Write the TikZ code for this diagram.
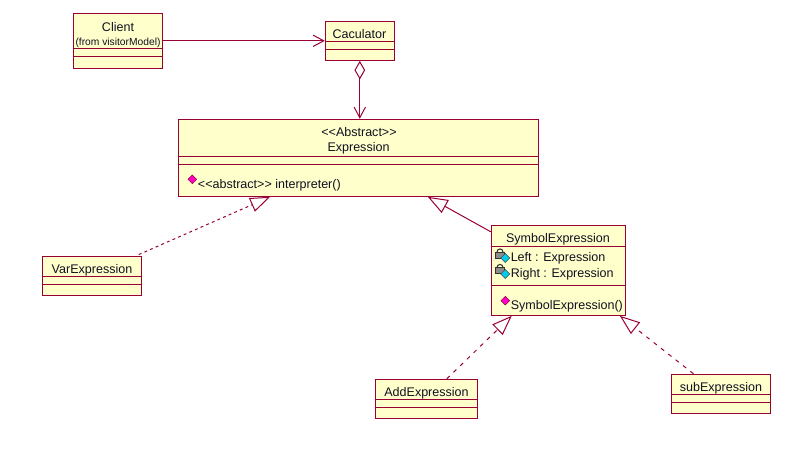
\documentclass[tikz,border=0pt]{standalone}
\usepackage{fontspec}
\setmainfont{Liberation Sans}
\usetikzlibrary{arrows.meta,calc,shapes.geometric}
\definecolor{umlline}{HTML}{990033}
\definecolor{umlfill}{HTML}{FFFFCC}
\definecolor{umltext}{HTML}{101020}
\definecolor{opcolor}{HTML}{FF00CC}
\definecolor{attrcolor}{HTML}{00CCEE}

\begin{document}
\begin{tikzpicture}[
		x=0.75pt, y=-0.75pt,
		every node/.style={font=\fontsize{9.4}{11}\selectfont, text=umltext},
		classbox/.style 2 args={
				draw=umlline,
				fill=umlfill,
				line width=0.75pt,
				inner sep=0pt,
				minimum width=#1*0.75pt,
				minimum height=#2*0.75pt
		},
		part/.style={draw=umlline, line width=0.75pt},
		label/.style={inner sep=0pt},
		member/.style={inner sep=0pt, anchor=west},
		small/.style={inner sep=0pt, font=\fontsize{7.7}{9}\selectfont},
		opicon/.style={diamond, draw=umlline, fill=opcolor, line width=0.4pt, inner sep=0pt, minimum size=6.6pt},
		attricon/.style={diamond, draw=black!70, fill=attrcolor, line width=0.4pt, inner sep=0pt, minimum size=7pt},
		lockbody/.style={draw=black!80, fill=black!45, line width=0.4pt, inner sep=0pt, minimum width=6.8pt, minimum height=4.2pt},
		lockring/.style={draw=black!80, line width=0.8pt},
		arrow/.style={part, -{Straight Barb[length=8pt, width=8.5pt, line width=0.75pt]}},
		aggregate/.style={part, {Diamond[open, length=14pt, width=8pt, line width=0.75pt]}-{Straight Barb[length=8pt, width=8.5pt, line width=0.75pt]}},
		inherit/.style={part, -{Triangle[open, length=15pt, width=11pt, line width=0.75pt]}},
		realize/.style={inherit, dash pattern=on 3pt off 4pt},
		realizefine/.style={inherit, dash pattern=on 2.2pt off 2.4pt}
	]
	\useasboundingbox (0,0) rectangle (810,464);

	% Classes
	\node[classbox={89}{55}] (client) at (117.8,40.8) {};
	\node[classbox={69}{39}] (caculator) at (359.8,40.8) {};
	\node[classbox={360}{77}] (expression) at (358.3,157.8) {};
	\node[classbox={134.4}{90}] (symbol) at (558.5,270.3) {};
	\node[classbox={99}{39.3}] (var) at (91.8,275.7) {};
	\node[classbox={102.4}{39}] (add) at (426.5,398.8) {};
	\node[classbox={99.4}{39}] (sub) at (721,393.8) {};

	% Compartment lines
	\draw[part] ($(client.north west)+(0,36)$) -- ($(client.north east)+(0,36)$);
	\draw[part] ($(client.north west)+(0,44)$) -- ($(client.north east)+(0,44)$);
	\draw[part] ($(caculator.north west)+(0,21)$) -- ($(caculator.north east)+(0,21)$);
	\draw[part] ($(caculator.north west)+(0,29)$) -- ($(caculator.north east)+(0,29)$);
	\draw[part] ($(expression.north west)+(0,38)$) -- ($(expression.north east)+(0,38)$);
	\draw[part] ($(expression.north west)+(0,46)$) -- ($(expression.north east)+(0,46)$);
	\draw[part] ($(symbol.north west)+(0,21.3)$) -- ($(symbol.north east)+(0,21.3)$);
	\draw[part] ($(symbol.north west)+(0,61)$) -- ($(symbol.north east)+(0,61)$);
	\draw[part] ($(var.north west)+(0,21.3)$) -- ($(var.north east)+(0,21.3)$);
	\draw[part] ($(var.north west)+(0,29.3)$) -- ($(var.north east)+(0,29.3)$);
	\draw[part] ($(add.north west)+(0,21)$) -- ($(add.north east)+(0,21)$);
	\draw[part] ($(add.north west)+(0,29)$) -- ($(add.north east)+(0,29)$);
	\draw[part] ($(sub.north west)+(0,21)$) -- ($(sub.north east)+(0,21)$);
	\draw[part] ($(sub.north west)+(0,29)$) -- ($(sub.north east)+(0,29)$);

	% Texts
	\node[label] (clientname) at (118,26.7) {Client};
	\node[small] (clientfrom) at (118,43.3) {(from visitorModel)};
	\node[label] (caculatorname) at (359.5,34.5) {Caculator};
	\node[label] (stereotype) at (359,132.5) {<{}<Abstract>{}>};
	\node[label] (expressionname) at (358.5,148.5) {Expression};
	\node[member] (interpreter) at (197.7,185) {<{}<abstract>{}> interpreter()};
	\node[label] (symbolname) at (558,239) {SymbolExpression};
	\node[member] (left) at (510.5,258.2) {Left : Expression};
	\node[member] (right) at (510.5,274) {Right : Expression};
	\node[member] (symbolop) at (510.5,305.8) {SymbolExpression()};
	\node[label] (varname) at (92,269.8) {VarExpression};
	\node[label] (addname) at (426.5,393.2) {AddExpression};
	\node[label] (subname) at (721,388.2) {subExpression};

	% Member icons
	\node[opicon] (interpretericon) at (192.3,179.3) {};
	\node[opicon] (symbolopicon) at (505.3,300.7) {};
	\node[lockbody] (leftlock) at (500,255) {};
	\draw[lockring] ($(leftlock.north)+(-3,0)$) arc[start angle=180, end angle=360, radius=3];
	\node[attricon] (lefticon) at (505.3,258) {};
	\node[lockbody] (rightlock) at (500,270.5) {};
	\draw[lockring] ($(rightlock.north)+(-3,0)$) arc[start angle=180, end angle=360, radius=3];
	\node[attricon] (righticon) at (505.3,274) {};

	% Free ends on the boxes
	\coordinate (varstart) at ($(var.north east)+(-3,-1)$);
	\coordinate (varend) at ($(expression.south west)+(92.4,0)$);
	\coordinate (symbolstart) at ($(symbol.north west)+(0,7)$);
	\coordinate (symbolend) at ($(expression.south west)+(250,0)$);
	\coordinate (addstart) at ($(add.north west)+(72,0)$);
	\coordinate (addend) at ($(symbol.south west)+(21,0)$);
	\coordinate (substart) at ($(sub.north west)+(22.7,0)$);
	\coordinate (subend) at ($(symbol.south east)+(-6.4,0)$);

	% Associations
	\draw[arrow] (client) -- (caculator);
	\draw[aggregate] (caculator.south) -- (caculator.south |- expression.north);

	% Generalisations
	\draw[realizefine] (varstart) -- (varend);
	\draw[inherit] (symbolstart) -- (symbolend);
	\draw[realize] (addstart) -- (addend);
	\draw[realize] (substart) -- (subend);
\end{tikzpicture}
\end{document}
